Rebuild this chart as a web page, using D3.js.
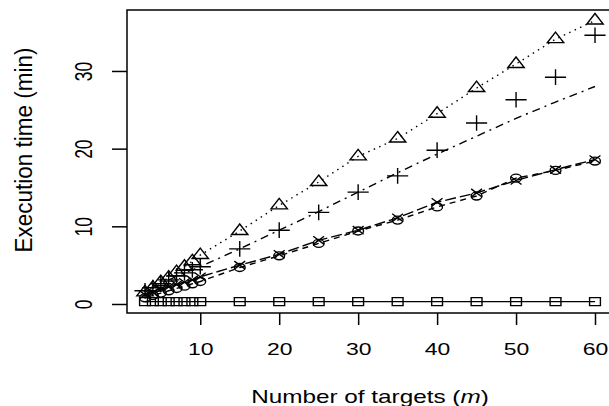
<!DOCTYPE html>
<html>
<head>
<meta charset="utf-8">
<script src="https://cdn.jsdelivr.net/npm/d3@7"></script>
<style>
  html, body { margin: 0; padding: 0; background: #fff; }
  text { font-family: "Liberation Sans", Arial, Helvetica, sans-serif; fill: #000; }
</style>
</head>
<body>
<svg id="chart" width="609" height="406"></svg>
<script>
// number of targets (m)
var targets = [3, 4, 5, 6, 7, 8, 9, 10, 15, 20, 25, 30, 35, 40, 45, 50, 55, 60];

// execution times (min)
var squareTimes   = [0.3, 0.3, 0.3, 0.3, 0.3, 0.3, 0.3, 0.3, 0.3, 0.3, 0.3, 0.3, 0.3, 0.3, 0.3, 0.3, 0.3, 0.3];
var circleTimes   = [0.8, 1.1, 1.4, 1.7, 2.0, 2.3, 2.6, 2.9, 4.7, 6.2, 7.8, 9.4, 10.8, 12.5, 13.9, 16.2, 17.2, 18.4];
var crossTimes    = [1.2, 1.5, 1.9, 2.2, 2.5, 2.8, 3.1, 3.5, 5.0, 6.4, 8.2, 9.5, 11.1, 13.1, 14.3, 15.9, 17.3, 18.6];
var plusTimes     = [1.7, 2.1, 2.6, 3.1, 3.6, 4.0, 4.4, 4.8, 7.1, 9.5, 11.8, 14.4, 16.5, 19.8, 23.3, 26.3, 29.2, 34.6];
var plusLine      = [1.7, 2.1, 2.6, 3.1, 3.6, 4.0, 4.4, 4.8, 7.1, 9.5, 11.9, 14.4, 16.9, 19.3, 21.6, 23.9, 26.0, 28.0];
var triangleTimes = [1.5, 2.1, 2.8, 3.4, 4.1, 4.8, 5.5, 6.3, 9.4, 12.7, 15.7, 19.0, 21.3, 24.5, 27.8, 30.9, 34.1, 36.5];

var xTicks = [10, 20, 30, 40, 50, 60];
var yTicks = [0, 10, 20, 30];

function drawChart() {
  var svg = d3.select("#chart");

  // plot region (the picture is stretched sideways, hence the x scaling on text & symbols)
  var pLeft = 127, pRight = 613, pTop = 10, pBottom = 313;
  var stretch = 1.35;

  var x = d3.scaleLinear().domain([0.72, 62.28]).range([pLeft, pRight]);
  var y = d3.scaleLinear().domain([-1.16, 37.85]).range([pBottom, pTop]);

  svg.append("clipPath").attr("id", "plotclip")
    .append("rect")
      .attr("x", pLeft).attr("y", pTop)
      .attr("width", pRight - pLeft).attr("height", pBottom - pTop);

  var plot = svg.append("g").attr("clip-path", "url(#plotclip)");

  function addSeries(values, dash, symbolType, symbolSize) {
    var pts = targets.map(function(t, i) { return [t, values[i]]; });

    if (dash !== undefined) {
      plot.append("path")
          .datum(pts)
          .attr("fill", "none")
          .attr("stroke", "#000")
          .attr("stroke-width", 1.4)
          .attr("stroke-dasharray", dash)
          .attr("d", d3.line().x(function(d) { return x(d[0]); }).y(function(d) { return y(d[1]); }));
    }

    if (symbolType) {
      var sym = d3.symbol().type(symbolType).size(symbolSize);
      plot.append("g").selectAll("path")
          .data(pts)
        .enter().append("path")
          .attr("transform", function(d) {
            return "translate(" + x(d[0]) + "," + y(d[1]) + ") scale(" + stretch + ",1)";
          })
          .attr("d", sym)
          .attr("fill", "none")
          .attr("stroke", "#000")
          .attr("stroke-width", 1.4)
          .attr("vector-effect", "non-scaling-stroke");
    }
  }

  // lines first, then the symbols
  addSeries(squareTimes, null, d3.symbolSquare2 || d3.symbolSquare, 82);
  addSeries(circleTimes, "6,5", d3.symbolCircle, 50);
  addSeries(crossTimes, "11,4", d3.symbolTimes || d3.symbolCross, 44);
  addSeries(plusLine, "2,5,8,5");
  addSeries(plusTimes, undefined, d3.symbolPlus || d3.symbolCross, 82);
  addSeries(triangleTimes, "1.5,4.5", d3.symbolTriangle2 || d3.symbolTriangle, 105);

  // box round the plot
  svg.append("rect")
      .attr("x", pLeft).attr("y", pTop)
      .attr("width", pRight - pLeft).attr("height", pBottom - pTop)
      .attr("fill", "none")
      .attr("stroke", "#000")
      .attr("stroke-width", 1.5);

  // x axis
  var gx = svg.append("g")
      .attr("transform", "translate(0," + pBottom + ")")
      .call(d3.axisBottom(x).tickValues(xTicks).tickSize(12).tickSizeOuter(0).tickFormat(d3.format("d")));
  gx.select(".domain").remove();
  gx.selectAll("line").attr("stroke-width", 1.5);
  gx.selectAll("text")
      .attr("y", null).attr("dy", null)
      .attr("transform", "translate(0,42) scale(" + stretch + ",1)")
      .style("font-size", "17px");

  // y axis, labels turned on their side
  var gy = svg.append("g")
      .attr("transform", "translate(" + pLeft + ",0)")
      .call(d3.axisLeft(y).tickValues(yTicks).tickSize(15).tickSizeOuter(0).tickFormat(d3.format("d")));
  gy.select(".domain").remove();
  gy.selectAll("line").attr("stroke-width", 1.5);
  gy.selectAll("text")
      .attr("x", null).attr("dy", null)
      .attr("text-anchor", "middle")
      .attr("transform", "translate(-35.5,0) scale(" + stretch + ",1) rotate(-90)")
      .style("font-size", "17.5px");

  // axis titles
  var xt = svg.append("text")
      .attr("text-anchor", "middle")
      .attr("transform", "translate(370,403) scale(" + stretch + ",1)")
      .style("font-size", "18px");
  xt.append("tspan").text("Number of targets (");
  xt.append("tspan").style("font-style", "italic").text("m");
  xt.append("tspan").text(")");

  svg.append("text")
      .attr("text-anchor", "middle")
      .attr("transform", "translate(32,150) scale(" + stretch + ",1) rotate(-90)")
      .attr("textLength", 205)
      .attr("lengthAdjust", "spacingAndGlyphs")
      .style("font-size", "17.5px")
      .text("Execution time (min)");
}

drawChart();
</script>
</body>
</html>
